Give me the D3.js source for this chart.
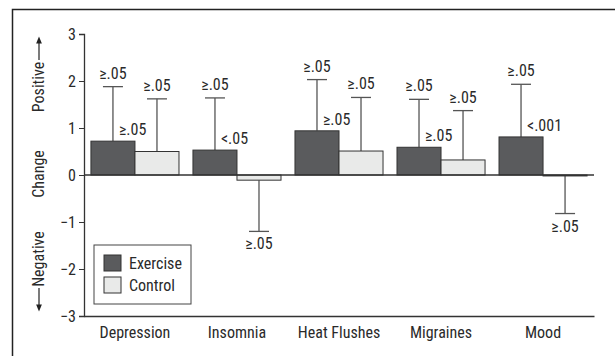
<!DOCTYPE html>
<html>
<head>
<meta charset="utf-8">
<script src="https://cdn.jsdelivr.net/npm/d3@7"></script>
<style>
body{margin:0;background:#fff;overflow:hidden}
svg{display:block}
text{font-family:"Liberation Sans Narrow","Arial Narrow","Roboto Condensed","Liberation Sans",sans-serif;fill:#2a2a2a}
</style>
</head>
<body>
<div id="chart"></div>
<script>
// values
var categories = ["Depression","Insomnia","Heat Flushes","Migraines","Mood"]
var groups = ["Exercise","Control"]
var exerciseMean = [0.72,0.53,0.94,0.59,0.81]
var exerciseErr = [1.88,1.64,2.03,1.61,1.93]
var controlMean = [0.50,-0.11,0.51,0.32,-0.02]
var controlErr = [1.62,-1.20,1.65,1.37,-0.82]
var exerciseTopLabel = ["≥.05","≥.05","≥.05","≥.05","≥.05"]
var exerciseSideLabel = ["≥.05","<.05","≥.05","≥.05","<.001"]
var controlLabel = ["≥.05","≥.05","≥.05","≥.05","≥.05"]
var yTicks = [-3,-2,-1,0,1,2,3]

var width = 615, height = 356
var fs = 16
var svg = d3.select("#chart").append("svg").attr("width",width).attr("height",height)

// frame
svg.append("path").attr("d","M12.5,356V9.5H615").attr("fill","none").attr("stroke","#222").attr("stroke-width",1.5)

var x0 = d3.scaleBand().domain(categories).range([84,594]).paddingInner(0.137).paddingOuter(0.068)
var x1 = d3.scaleBand().domain(groups).range([0,x0.bandwidth()])
var y = d3.scaleLinear().domain([-3,3]).range([316,34])

var data = categories.map(function(c,i){
    return [
        {cat:c,g:"Exercise",v:exerciseMean[i],e:exerciseErr[i],top:exerciseTopLabel[i],side:exerciseSideLabel[i]},
        {cat:c,g:"Control",v:controlMean[i],e:controlErr[i],top:controlLabel[i]}
    ]
})
var flat = d3.merge(data)
var fill = {"Exercise":"#5a5b5d","Control":"#e9eae9"}

// error bars first
var eb = svg.append("g")
eb.selectAll("line.stem").data(flat).enter().append("line")
    .attr("x1",function(d){return x0(d.cat)+x1(d.g)+x1.bandwidth()/2})
    .attr("x2",function(d){return x0(d.cat)+x1(d.g)+x1.bandwidth()/2})
    .attr("y1",function(d){return y(d.v)})
    .attr("y2",function(d){return y(d.e)})
    .attr("stroke","#555").attr("stroke-width",1.3)
eb.selectAll("line.cap").data(flat).enter().append("line")
    .attr("x1",function(d){return x0(d.cat)+x1(d.g)+x1.bandwidth()/2-10})
    .attr("x2",function(d){return x0(d.cat)+x1(d.g)+x1.bandwidth()/2+10})
    .attr("y1",function(d){return y(d.e)})
    .attr("y2",function(d){return y(d.e)})
    .attr("stroke","#555").attr("stroke-width",1.3)

// bars
svg.append("g").selectAll("rect").data(flat).enter().append("rect")
    .attr("x",function(d){return x0(d.cat)+x1(d.g)})
    .attr("width",x1.bandwidth())
    .attr("y",function(d){return y(Math.max(0,d.v))})
    .attr("height",function(d){return Math.abs(y(d.v)-y(0))})
    .attr("fill",function(d){return fill[d.g]})
    .attr("stroke","#333").attr("stroke-width",1)

// p labels
var lab = svg.append("g").attr("font-size",fs)
lab.selectAll("text.top").data(flat).enter().append("text")
    .attr("x",function(d){return x0(d.cat)+x1(d.g)+x1.bandwidth()/2})
    .attr("y",function(d){return d.e>=0 ? y(d.e)-8 : y(d.e)+18})
    .attr("text-anchor","middle")
    .text(function(d){return d.top})
lab.selectAll("text.side").data(flat.filter(function(d){return d.side})).enter().append("text")
    .attr("x",function(d){return x0(d.cat)+x1(d.g)+x1.bandwidth()/2+6})
    .attr("y",function(d){return y(d.v)-6})
    .text(function(d){return d.side})

// zero line
svg.append("line").attr("x1",84).attr("x2",594).attr("y1",y(0)).attr("y2",y(0)).attr("stroke","#333").attr("stroke-width",1.3)

// y axis
var yAxis = svg.append("g").attr("transform","translate(84,0)")
    .call(d3.axisLeft(y).tickValues(yTicks).tickSize(5).tickFormat(function(d){return d<0 ? "\u2212"+Math.abs(d) : d}))
yAxis.select(".domain").attr("stroke","#333").attr("stroke-width",1.3)
yAxis.selectAll(".tick line").attr("stroke","#333")
yAxis.selectAll(".tick text").attr("font-size",fs).attr("x",-8).attr("fill","#2a2a2a")

// x axis
var xAxis = svg.append("g").attr("transform","translate(0,316)")
    .call(d3.axisBottom(x0).tickSize(0).tickPadding(11))
xAxis.select(".domain").attr("stroke","#333").attr("stroke-width",1.3)
xAxis.selectAll(".tick text").attr("font-size",fs).attr("fill","#2a2a2a")

// y axis title with arrows
svg.append("defs").append("marker").attr("id","arr").attr("viewBox","0 0 10 10")
    .attr("refX",5).attr("refY",5).attr("markerWidth",6).attr("markerHeight",8).attr("orient","auto")
    .append("path").attr("d","M0,1L10,5L0,9Z").attr("fill","#222")
function vtext(t,cy){
    svg.append("text").attr("transform","translate(44,"+cy+") rotate(-90)")
        .attr("text-anchor","middle").attr("font-size",fs).text(t)
}
vtext("Positive",87)
vtext("Change",174)
vtext("Negative",259)
svg.append("line").attr("x1",39).attr("x2",39).attr("y1",60).attr("y2",40).attr("stroke","#222").attr("stroke-width",1.2).attr("marker-end","url(#arr)")
svg.append("line").attr("x1",39).attr("x2",39).attr("y1",288).attr("y2",308).attr("stroke","#222").attr("stroke-width",1.2).attr("marker-end","url(#arr)")

// legend
var lg = svg.append("g").attr("transform","translate(94,245)")
lg.append("rect").attr("width",97).attr("height",59).attr("fill","#fff").attr("stroke","#444").attr("stroke-width",1)
lg.selectAll("rect.sw").data(groups).enter().append("rect")
    .attr("x",10).attr("y",function(d,i){return 10+i*22}).attr("width",17).attr("height",16)
    .attr("fill",function(d){return fill[d]}).attr("stroke","#333")
lg.selectAll("text").data(groups).enter().append("text")
    .attr("x",35).attr("y",function(d,i){return 24+i*22}).attr("font-size",fs).text(function(d){return d})
</script>
</body>
</html>
